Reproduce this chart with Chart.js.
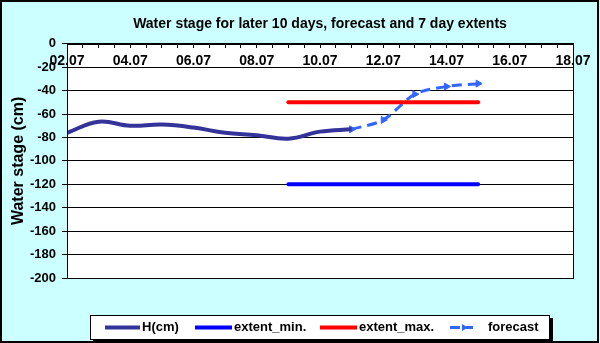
<!DOCTYPE html>
<html>
<head>
<meta charset="utf-8">
<title>Water stage</title>
<script src="https://cdn.jsdelivr.net/npm/chart.js@4.4.0/dist/chart.umd.min.js"></script>
<style>
    html, body { margin: 0; padding: 0; background: #ccffff; }
    #stageChart { display: block; }
</style>
</head>
<body>
<canvas id="stageChart" width="600" height="343"></canvas>
<script>
// observed stage, last 10 days
const hDates = ['02.07', '03.07', '04.07', '05.07', '06.07', '07.07', '08.07', '09.07', '10.07', '11.07'];
const hValues = [-76, -66.5, -70, -69, -71.5, -76, -78, -81, -75, -73];

// forecast continues from the last observation
const forecastDates = ['11.07', '12.07', '13.07', '14.07', '15.07'];
const forecastValues = [-73, -65, -43, -36.5, -34];

// 7 day extents
const extentDates = ['09.07', '15.07'];
const extentMin = [-120, -120];
const extentMax = [-50, -50];

const xTickLabels = ['02.07', '04.07', '06.07', '08.07', '10.07', '12.07', '14.07', '16.07', '18.07'];

const FONT = "'Liberation Sans', Arial, sans-serif";

// days counted from 02.07
const toDay = (d) => parseInt(d, 10) - 2;
const points = (dates, values) => dates.map((d, i) => ({ x: toDay(d), y: values[i] }));

const frame = {
    id: 'frame',
    beforeDraw(chart) {
        const { ctx, chartArea: a } = chart;
        ctx.save();
        ctx.fillStyle = '#ccffff';
        ctx.fillRect(0, 0, chart.width, chart.height);
        ctx.strokeStyle = '#000';
        ctx.lineWidth = 2;
        ctx.strokeRect(1, 1, chart.width - 3, chart.height - 2);
        ctx.fillStyle = '#fff';
        ctx.fillRect(a.left, a.top, a.right - a.left, a.bottom - a.top);
        ctx.restore();
    },
    afterDraw(chart) {
        const { ctx, chartArea: a } = chart;
        ctx.save();
        ctx.strokeStyle = '#000';
        ctx.lineWidth = 1;
        ctx.strokeRect(Math.round(a.left) + 0.5, Math.round(a.top) + 0.5,
            Math.round(a.right - a.left), Math.round(a.bottom - a.top));

        // legend box with shadow
        ctx.fillStyle = '#000';
        ctx.fillRect(93, 318, 460, 24);
        ctx.fillStyle = '#fff';
        ctx.fillRect(90, 315, 460, 24);
        ctx.strokeRect(90.5, 315.5, 459, 24);

        const slots = [
            { x1: 105, x2: 140, tx: 142 },
            { x1: 195, x2: 232, tx: 234 },
            { x1: 320, x2: 357, tx: 359 },
            { x1: 450, x2: 473, tx: 488 }
        ];
        const y = 327.5;
        ctx.font = 'bold 13px ' + FONT;
        ctx.textBaseline = 'middle';
        chart.data.datasets.forEach((ds, i) => {
            const s = slots[i];
            ctx.strokeStyle = ds.borderColor;
            ctx.lineWidth = ds.borderWidth;
            ctx.lineCap = 'butt';
            ctx.setLineDash(ds.borderDash || []);
            ctx.beginPath();
            ctx.moveTo(s.x1, y);
            ctx.lineTo(s.x2, y);
            ctx.stroke();
            ctx.setLineDash([]);
            if (ds.pointRadius) {
                ctx.fillStyle = ds.borderColor;
                ctx.beginPath();
                ctx.moveTo(468, y);
                ctx.lineTo(462, y - 3.5);
                ctx.lineTo(462, y + 3.5);
                ctx.closePath();
                ctx.fill();
            }
            ctx.fillStyle = '#000';
            ctx.fillText(ds.label, s.tx, y);
        });
        ctx.restore();
    }
};

new Chart(document.getElementById('stageChart'), {
    type: 'line',
    data: {
        datasets: [
            {
                label: 'H(cm)',
                data: points(hDates, hValues),
                borderColor: '#333399',
                borderWidth: 4,
                tension: 0.4,
                pointRadius: 0
            },
            {
                label: 'extent_min.',
                data: points(extentDates, extentMin),
                borderColor: '#0000ff',
                borderWidth: 4,
                borderCapStyle: 'round',
                pointRadius: 0
            },
            {
                label: 'extent_max.',
                data: points(extentDates, extentMax),
                borderColor: '#ff0000',
                borderWidth: 4,
                borderCapStyle: 'round',
                pointRadius: 0
            },
            {
                label: 'forecast',
                data: points(forecastDates, forecastValues),
                borderColor: '#3366ff',
                backgroundColor: '#3366ff',
                borderWidth: 3,
                borderDash: [10, 6],
                tension: 0.3,
                pointStyle: 'triangle',
                pointRotation: 90,
                pointRadius: 4,
                pointBorderWidth: 1
            }
        ]
    },
    options: {
        responsive: false,
        animation: false,
        devicePixelRatio: 1,
        layout: { padding: { left: 2, right: 27, top: 0, bottom: 65 } },
        plugins: {
            legend: { display: false },
            tooltip: { enabled: false },
            title: {
                display: true,
                fullSize: false,
                text: 'Water stage for later 10 days, forecast and 7 day extents',
                color: '#000',
                font: { family: FONT, size: 14, weight: 'bold' },
                padding: { top: 16, bottom: 11 }
            }
        },
        scales: {
            x: {
                type: 'linear',
                position: { y: 0 },
                min: 0,
                max: 16,
                grid: { drawOnChartArea: false, color: '#000', tickLength: 4 },
                border: { color: '#000' },
                ticks: {
                    stepSize: 0.5,
                    autoSkip: false,
                    maxRotation: 0,
                    padding: 5,
                    color: '#000',
                    font: { family: FONT, size: 14, weight: 'bold' },
                    callback: (v) => (v % 2 === 0 ? xTickLabels[v / 2] : '')
                }
            },
            y: {
                min: -200,
                max: 0,
                afterFit: (scale) => { scale.width = 65; },
                grid: { color: '#000', tickLength: 5 },
                border: { color: '#000' },
                ticks: {
                    stepSize: 20,
                    padding: 6,
                    color: '#000',
                    font: { family: FONT, size: 13, weight: 'bold' }
                },
                title: {
                    display: true,
                    text: 'Water stage (cm)',
                    color: '#000',
                    font: { family: FONT, size: 16, weight: 'bold' },
                    padding: { top: 7, bottom: 4 }
                }
            }
        }
    },
    plugins: [frame]
});
</script>
</body>
</html>
